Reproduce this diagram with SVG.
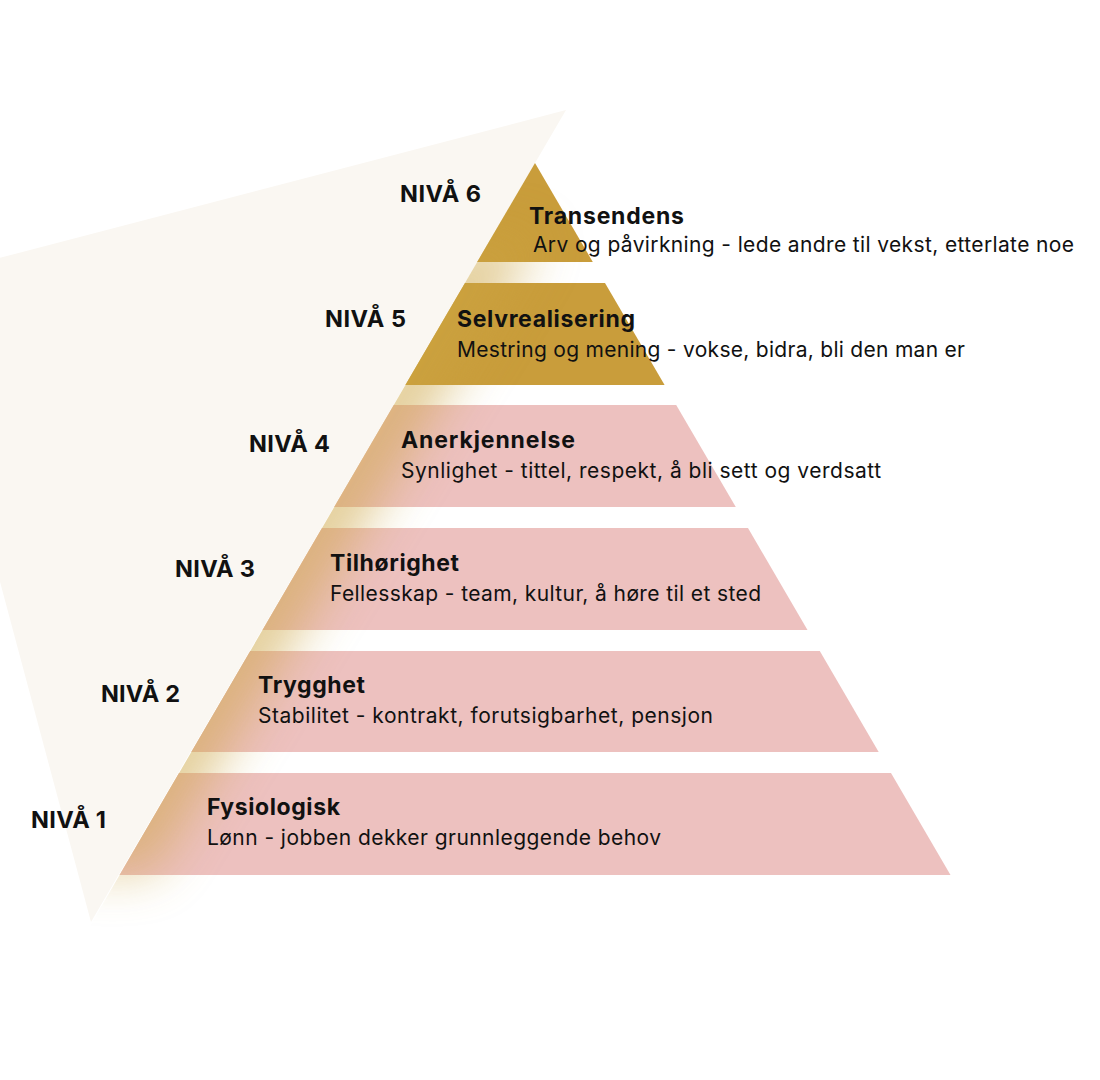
<svg xmlns="http://www.w3.org/2000/svg" xmlns:xlink="http://www.w3.org/1999/xlink" width="1100" height="1080" viewBox="0 0 1100 1080">
  <style>
    .pink { fill: #EDC1BF; }
    .gold { fill: #C99D3B; }
    .niva { font-family: Inter, "Liberation Sans", sans-serif; font-weight: 700; font-size: 23.5px; fill: #111111; }
    .title { font-family: Inter, "Liberation Sans", sans-serif; font-weight: 700; font-size: 23px; fill: #111111; }
    .sub { font-family: Inter, "Liberation Sans", sans-serif; font-weight: 400; font-size: 21px; fill: #111111; }
  </style>
  <defs>
    <filter id="blur" x="-100%" y="-20%" width="300%" height="140%">
      <feGaussianBlur stdDeviation="25"/>
    </filter>
    <polygon id="glowBand" points="456,235 541,235 152,872 67,872" fill="#CCA443" opacity="0.55" filter="url(#blur)"/>
    <clipPath id="rightOfEdge"><polygon points="630,0 1100,0 1100,1080 0,1080"/></clipPath>
    <clipPath id="c1"><polygon points="179,773 891,773 950.5,875 119.5,875"/></clipPath>
    <clipPath id="c2"><polygon points="250.2,651 819.8,651 878.7,752 191.3,752"/></clipPath>
    <clipPath id="c3"><polygon points="322,528 748,528 807.5,630 262.5,630"/></clipPath>
    <clipPath id="c4"><polygon points="393.8,405 676.2,405 735.8,507 334.2,507"/></clipPath>
    <clipPath id="c5"><polygon points="465,283 605,283 664.6,385 405.4,385"/></clipPath>
    <clipPath id="c6"><polygon points="535,163 592.8,262 477.2,262"/></clipPath>
  </defs>

  <g id="background">
    <polygon points="-81,279 566,110 91,922" fill="#FAF7F2"/>
    <use xlink:href="#glowBand" href="#glowBand" clip-path="url(#rightOfEdge)"/>
  </g>

  <g id="level1">
    <polygon class="pink" points="179,773 891,773 950.5,875 119.5,875"/>
    <use xlink:href="#glowBand" href="#glowBand" clip-path="url(#c1)"/>
    <text class="niva" x="31" y="828" textLength="75">NIVÅ 1</text>
    <text class="title" x="207" y="815" textLength="133">Fysiologisk</text>
    <text class="sub" x="207" y="845" textLength="454">Lønn - jobben dekker grunnleggende behov</text>
  </g>

  <g id="level2">
    <polygon class="pink" points="250.2,651 819.8,651 878.7,752 191.3,752"/>
    <use xlink:href="#glowBand" href="#glowBand" clip-path="url(#c2)"/>
    <text class="niva" x="101" y="702" textLength="79">NIVÅ 2</text>
    <text class="title" x="258" y="693" textLength="107">Trygghet</text>
    <text class="sub" x="258" y="723" textLength="455">Stabilitet - kontrakt, forutsigbarhet, pensjon</text>
  </g>

  <g id="level3">
    <polygon class="pink" points="322,528 748,528 807.5,630 262.5,630"/>
    <use xlink:href="#glowBand" href="#glowBand" clip-path="url(#c3)"/>
    <text class="niva" x="175" y="577" textLength="80">NIVÅ 3</text>
    <text class="title" x="330" y="571" textLength="129">Tilhørighet</text>
    <text class="sub" x="330" y="601" textLength="431">Fellesskap - team, kultur, å høre til et sted</text>
  </g>

  <g id="level4">
    <polygon class="pink" points="393.8,405 676.2,405 735.8,507 334.2,507"/>
    <use xlink:href="#glowBand" href="#glowBand" clip-path="url(#c4)"/>
    <text class="niva" x="249" y="452" textLength="81">NIVÅ 4</text>
    <text class="title" x="401" y="448" textLength="174">Anerkjennelse</text>
    <text class="sub" x="401" y="478" textLength="480">Synlighet - tittel, respekt, å bli sett og verdsatt</text>
  </g>

  <g id="level5">
    <polygon class="gold" points="465,283 605,283 664.6,385 405.4,385"/>
    <use xlink:href="#glowBand" href="#glowBand" clip-path="url(#c5)"/>
    <text class="niva" x="325" y="327" textLength="81">NIVÅ 5</text>
    <text class="title" x="457" y="327" textLength="178">Selvrealisering</text>
    <text class="sub" x="457" y="357" textLength="508">Mestring og mening - vokse, bidra, bli den man er</text>
  </g>

  <g id="level6">
    <polygon class="gold" points="535,163 592.8,262 477.2,262"/>
    <use xlink:href="#glowBand" href="#glowBand" clip-path="url(#c6)"/>
    <text class="niva" x="400" y="202" textLength="81">NIVÅ 6</text>
    <text class="title" x="529" y="224" textLength="155">Transendens</text>
    <text class="sub" x="533" y="252" textLength="541">Arv og påvirkning - lede andre til vekst, etterlate noe</text>
  </g>

  <g id="connectors"/>
</svg>
